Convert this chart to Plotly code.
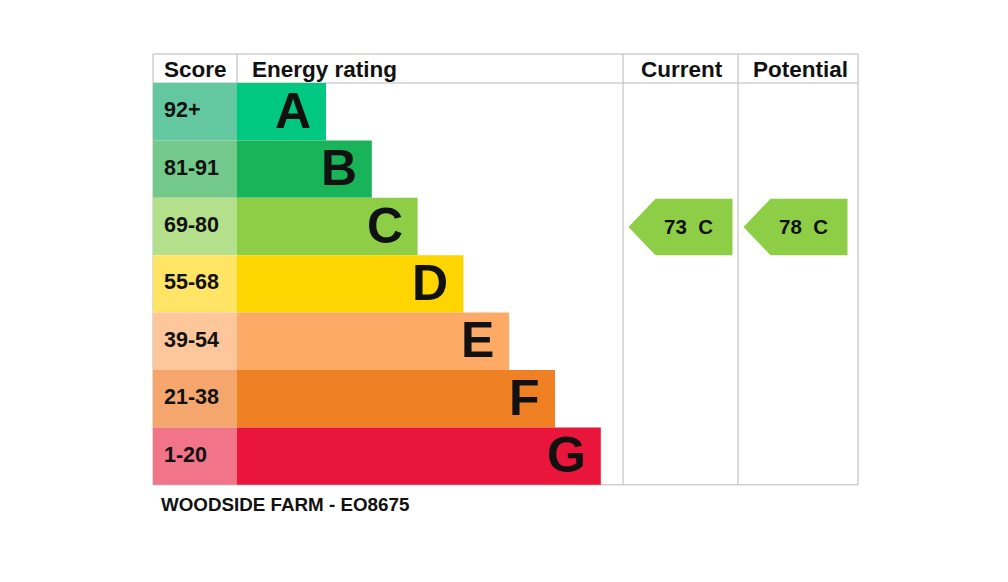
import plotly.graph_objects as go

# EPC bands, top to bottom
bands = ['A', 'B', 'C', 'D', 'E', 'F', 'G']
score_ranges = ['92+', '81-91', '69-80', '55-68', '39-54', '21-38', '1-20']
band_colours = ['#00c781', '#19b459', '#8dce46', '#ffd500', '#fcaa65', '#ef8023', '#e9153b']
cell_colours = ['#63c8a0', '#72c98a', '#b4df8b', '#ffe466', '#fdc69b', '#f5a66c', '#f27489']
band_lows = [92, 81, 69, 55, 39, 21, 1]

current_score = 73
potential_score = 78
headers = ['Score', 'Energy rating', 'Current', 'Potential']
footer = 'WOODSIDE FARM - EO8675'

PAGE_W, PAGE_H = 1008, 582
PAD = 8  # body margin of the html page
FONT = 'Liberation Sans, Arial, sans-serif'
LINE = '#b8b8b8'
INK = '#111111'

# layout in page pixels (axes map 1:1 to the window)
left, score_right, cur_left, pot_left, right = 153, 237, 623, 738, 858
top, head_bottom = 54, 83
row_h = 57.4
bottom = head_bottom + row_h * len(bands)
bar_min, bar_step = 89, 45.8


def band_of(score):
    for i, lo in enumerate(band_lows):
        if score >= lo:
            return i
    return len(bands) - 1


row_mid = [head_bottom + row_h * (i + 0.5) for i in range(len(bands))]
bar_len = [bar_min + bar_step * i for i in range(len(bands))]

fig = go.Figure()

# score cells
fig.add_trace(go.Bar(
    y=row_mid, x=[score_right - left] * len(bands), base=left,
    orientation='h', width=row_h, marker=dict(color=cell_colours, line=dict(width=0)),
    hoverinfo='skip', showlegend=False))

# rating bars
fig.add_trace(go.Bar(
    y=row_mid, x=bar_len, base=score_right,
    orientation='h', width=row_h, marker=dict(color=band_colours, line=dict(width=0)),
    hoverinfo='skip', showlegend=False))

shapes = []


def hline(y, x0, x1):
    shapes.append(dict(type='line', x0=x0, x1=x1, y0=y, y1=y, line=dict(color=LINE, width=1), layer='below'))


def vline(x, y0, y1):
    shapes.append(dict(type='line', x0=x, x1=x, y0=y0, y1=y1, line=dict(color=LINE, width=1), layer='below'))


hline(top, left, right)
hline(head_bottom, left, right)
hline(bottom, left, right)
vline(left, top, bottom)
vline(score_right, top, head_bottom)
vline(cur_left, top, bottom)
vline(pot_left, top, bottom)
vline(right, top, bottom)

annotations = []

# header text
for text, x, anchor in zip(headers,
                           [162, 250, (cur_left + pot_left) / 2 + 1, (pot_left + right) / 2 + 2],
                           ['left', 'left', 'center', 'center']):
    annotations.append(dict(x=x, y=(top + head_bottom) / 2 + 1, text='<b>%s</b>' % text, showarrow=False,
                            xanchor=anchor, yanchor='middle',
                            font=dict(family=FONT, size=22.5, color=INK)))

# score labels and band letters
for i in range(len(bands)):
    annotations.append(dict(x=162, y=row_mid[i] - 1.5, text='<b>%s</b>' % score_ranges[i], showarrow=False,
                            xanchor='left', yanchor='middle',
                            font=dict(family=FONT, size=21.5, color=INK)))
    annotations.append(dict(x=score_right + bar_len[i] - 13, y=row_mid[i] - 1, text='<b>%s</b>' % bands[i],
                            showarrow=False, xanchor='right', yanchor='middle',
                            font=dict(family=FONT, size=50, color=INK)))

# current / potential arrows
for score, col_left in [(current_score, cur_left), (potential_score, pot_left)]:
    b = band_of(score)
    y0, y1 = head_bottom + row_h * b + 1, head_bottom + row_h * (b + 1)
    tip = col_left + 5.5
    body = tip + 27
    end = tip + 104
    fig.add_trace(go.Scatter(
        x=[tip, body, end, end, body, tip], y=[(y0 + y1) / 2, y0, y0, y1, y1, (y0 + y1) / 2],
        mode='lines', fill='toself', fillcolor=band_colours[b], line=dict(width=0),
        hoverinfo='skip', showlegend=False))
    annotations.append(dict(x=(body + end) / 2 - 5.5, y=(y0 + y1) / 2 - 1,
                            text='<b>%d&nbsp;&nbsp;%s</b>' % (score, bands[b]),
                            showarrow=False, xanchor='center', yanchor='middle',
                            font=dict(family=FONT, size=20.5, color=INK)))

annotations.append(dict(x=159, y=504, text='<b>%s</b>' % footer, showarrow=False,
                        xanchor='left', yanchor='middle',
                        font=dict(family=FONT, size=18.8, color=INK)))

fig.update_layout(
    width=PAGE_W - 2 * PAD, height=PAGE_H - 2 * PAD,
    margin=dict(l=0, r=0, t=0, b=0),
    paper_bgcolor='white', plot_bgcolor='white',
    barmode='overlay',
    xaxis=dict(range=[PAD, PAGE_W - PAD], visible=False, fixedrange=True),
    yaxis=dict(range=[PAGE_H - PAD, PAD], visible=False, fixedrange=True),
    shapes=shapes, annotations=annotations,
)

fig.write_html("out.html")
